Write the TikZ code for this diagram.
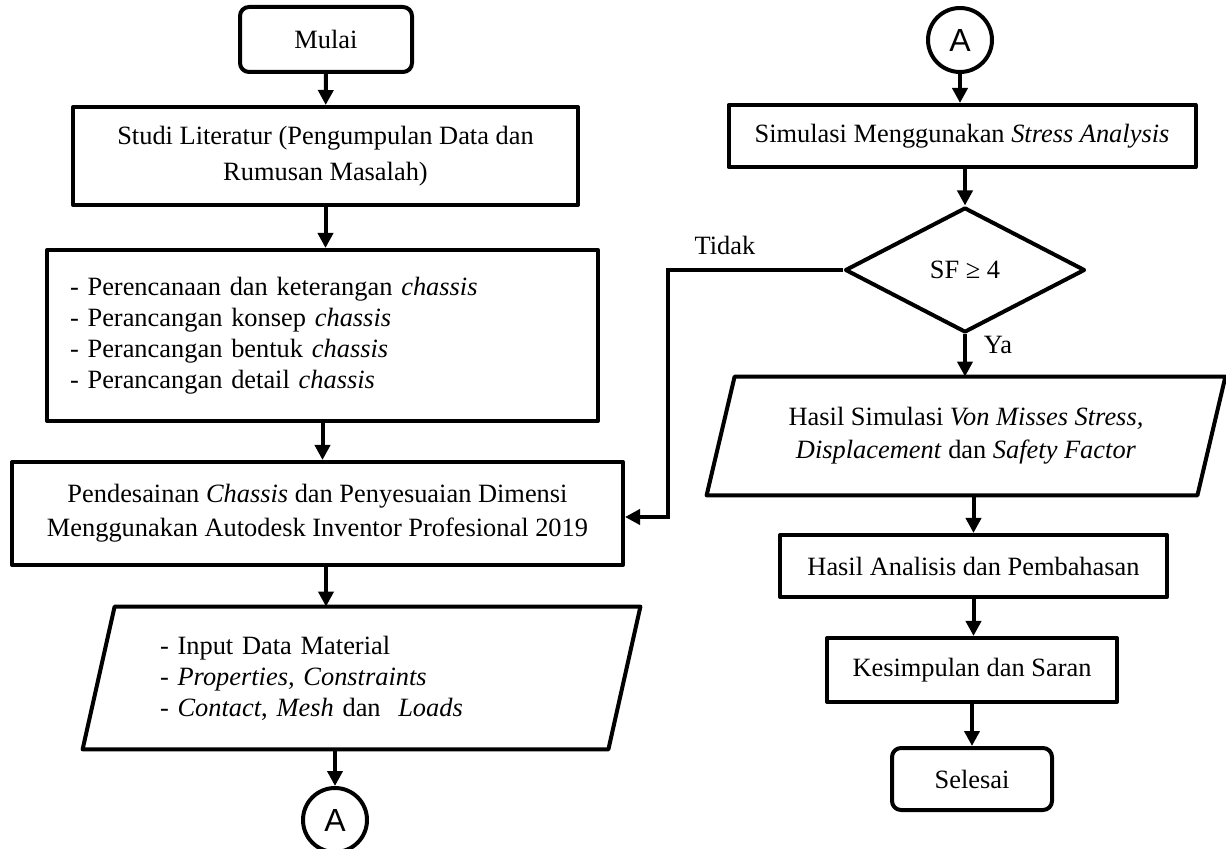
\documentclass[tikz,border=0pt]{standalone}
\usepackage{fontspec}
\setmainfont{Liberation Serif}
\newfontfamily\connfont{Liberation Sans}
\usetikzlibrary{arrows.meta,calc,positioning,shapes.geometric}
\tikzset{
  flowline/.style={line width=2pt,line join=round},
  flowarrow/.style={line width=2pt,-{Triangle[length=7.5pt,width=7.5pt]}},
  procbox/.style={draw,flowline,rectangle,align=center,inner sep=0pt},
  termbox/.style={procbox,rounded corners=4.5pt},
  iobox/.style={rectangle,inner sep=0pt},
  decbox/.style={draw,flowline,diamond,inner sep=0pt},
  connector/.style={draw,flowline,circle,minimum size=32pt,inner sep=0pt,
    font=\connfont\fontsize{16}{16}\selectfont},
  textlead/.style={font=\fontsize{13.2}{#1}\selectfont},
  figlabel/.style={inner sep=1pt}
}

\begin{document}
\begin{tikzpicture}[x=0.5pt,y=-0.5pt,font=\fontsize{13.2}{16}\selectfont]
  \useasboundingbox (0,0) rectangle (1226,849);

  % left column
  \node[termbox,minimum width=86pt,minimum height=32.5pt] (start) at (326,39.5) {Mulai};
  \node[procbox,minimum width=252.5pt,minimum height=49pt,textlead=18pt] (studi) at (325.5,156)
    {Studi Literatur (Pengumpulan Data dan\\Rumusan Masalah)};
  \node[procbox,align=left,text width=252.5pt,inner xsep=11.5pt,minimum height=85.5pt,
    textlead=15.4pt] (plan) at (322.5,335.5)
    {- Perencanaan dan keterangan \textit{chassis}\\
     - Perancangan konsep \textit{chassis}\\
     - Perancangan bentuk \textit{chassis}\\
     - Perancangan detail \textit{chassis}};
  \node[procbox,minimum width=305.5pt,minimum height=51.5pt,textlead=17pt] (design) at (317.5,513.5)
    {Pendesainan \textit{Chassis} dan Penyesuaian Dimensi\\
     Menggunakan Autodesk Inventor Profesional 2019};
  \node[iobox,align=left,text width=201.5pt,inner xsep=30.5pt,minimum height=71pt,
    textlead=15.5pt] (input) at (361.5,678)
    {- Input Data Material\\
     - \textit{Properties, Constraints}\\
     - \textit{Contact}, \textit{Mesh} dan\ \ \textit{Loads}};
  \draw[flowline] ([xshift=8pt]input.north west) -- ([xshift=8pt]input.north east)
    -- ([xshift=-8pt]input.south east) -- ([xshift=-8pt]input.south west) -- cycle;
  \node[connector] (conL) at (335,820) {A};

  % right column
  \node[connector] (conR) at (960,40) {A};
  \node[procbox,minimum width=233.5pt,minimum height=31pt] (sim) at (962,136)
    {Simulasi Menggunakan \textit{Stress Analysis}};
  \node[decbox,minimum width=120pt,minimum height=62.5pt] (dec) at (965,270) {SF ≥ 4};
  \node[iobox,align=center,minimum width=245pt,minimum height=59pt,textlead=16.5pt] (res) at (966,436)
    {Hasil Simulasi \textit{Von Misses Stress,}\\
     \textit{Displacement} dan \textit{Safety Factor}};
  \draw[flowline] ([xshift=7pt]res.north west) -- ([xshift=7pt]res.north east)
    -- ([xshift=-7pt]res.south east) -- ([xshift=-7pt]res.south west) -- cycle;
  \node[procbox,minimum width=193.5pt,minimum height=31pt] (analysis) at (973.5,566)
    {Hasil Analisis dan Pembahasan};
  \node[procbox,minimum width=145pt,minimum height=32pt] (concl) at (972,670)
    {Kesimpulan dan Saran};
  \node[termbox,minimum width=80pt,minimum height=31pt] (finish) at (972,779) {Selesai};

  \node[figlabel] (no) at (725,245) {Tidak};
  \node[figlabel] (yes) at (998,345) {Ya};
  \coordinate (bend) at (668,270);

  % connectors
  \draw[flowarrow] (start) -- (studi);
  \draw[flowarrow] (studi.south) -- (studi.south |- plan.north);
  \draw[flowarrow] (plan.south) -- (plan.south |- design.north);
  \draw[flowarrow] (design.south -| start) -- (input.north -| start);
  \draw[flowarrow] (input.south -| conL) -- (conL);
  \draw[flowarrow] (conR) -- (conR |- sim.north);
  \draw[flowarrow] (sim.south -| dec) -- (dec.north);
  \draw[flowarrow] (dec.south) -- (dec.south |- res.north);
  \draw[flowarrow] (res.south -| analysis) -- (analysis.north);
  \draw[flowarrow] (analysis.south) -- (analysis.south |- concl.north);
  \draw[flowarrow] (concl.south) -- (concl.south |- finish.north);
  \draw[flowarrow] (dec.west) -- (bend) |- ([yshift=-1.75pt]design.east);
\end{tikzpicture}
\end{document}
